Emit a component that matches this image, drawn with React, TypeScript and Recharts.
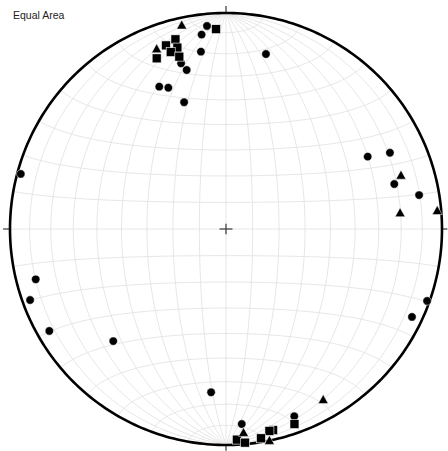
import React from 'react';
import { ScatterChart, Scatter, XAxis, YAxis } from 'recharts';

const title = 'Equal Area';

// Projected positions of the poles on the unit primitive circle: [east, north]
const circlePoles: [number, number][] = [
  [-0.088, 0.94], [-0.113, 0.9], [-0.116, 0.821], [0.185, 0.81], [-0.208, 0.767],
  [-0.182, 0.736], [-0.309, 0.659], [-0.267, 0.654], [-0.194, 0.587],
  [0.656, 0.335], [0.759, 0.353], [0.779, 0.208], [0.894, 0.157],
  [-0.95, 0.255], [-0.881, -0.233], [-0.907, -0.329], [-0.818, -0.472], [-0.522, -0.519],
  [0.931, -0.333], [0.861, -0.407],
  [-0.069, -0.756], [0.316, -0.867], [0.073, -0.903],
];

const squarePoles: [number, number][] = [
  [-0.046, 0.925], [-0.234, 0.878], [-0.278, 0.85], [-0.225, 0.84], [-0.256, 0.819],
  [-0.216, 0.798], [-0.321, 0.79],
  [0.317, -0.903], [0.218, -0.931], [0.201, -0.935], [0.162, -0.969], [0.05, -0.975], [0.088, -0.989],
];

const trianglePoles: [number, number][] = [
  [-0.205, 0.942], [-0.321, 0.832], [0.81, 0.247], [0.806, 0.073], [0.978, 0.083],
  [0.45, -0.792], [0.081, -0.944], [0.201, -0.981],
];

const gridStep = [10, 20, 30, 40, 50, 60, 70, 80];

const deg = Math.PI / 180;
const proj = (E: number, N: number, D: number) => {
  const k = 1 / Math.sqrt(1 + D);
  return { x: E * k, y: N * k };
};

const greatCircle = (dip: number, sign: number) => {
  const pts: { x: number; y: number }[] = [];
  for (let l = 0; l <= 180; l += 2) {
    const L = l * deg;
    pts.push(proj(sign * Math.sin(L) * Math.cos(dip * deg), Math.cos(L), Math.sin(L) * Math.sin(dip * deg)));
  }
  return pts;
};

const smallCircle = (theta: number, sign: number) => {
  const pts: { x: number; y: number }[] = [];
  for (let p = 0; p <= 180; p += 2) {
    const P = p * deg;
    pts.push(proj(Math.sin(theta * deg) * Math.cos(P), sign * Math.cos(theta * deg), Math.sin(theta * deg) * Math.sin(P)));
  }
  return pts;
};

const gridLines: { x: number; y: number }[][] = [];
gridStep.forEach((d) => {
  gridLines.push(greatCircle(d, 1));
  gridLines.push(greatCircle(d, -1));
  gridLines.push(smallCircle(d, 1));
  gridLines.push(smallCircle(d, -1));
});
gridLines.push(greatCircle(90, 1));
gridLines.push(smallCircle(90, 1));

const primitive: { x: number; y: number }[] = [];
for (let a = 0; a <= 360; a += 1) primitive.push({ x: Math.sin(a * deg), y: Math.cos(a * deg) });

const tickLen = 0.032;
const ticks = [
  [{ x: 0, y: 1 }, { x: 0, y: 1 + tickLen }],
  [{ x: 0, y: -1 }, { x: 0, y: -1 - 0.027 }],
  [{ x: 1, y: 0 }, { x: 1 + 0.025, y: 0 }],
  [{ x: -1, y: 0 }, { x: -1 - tickLen, y: 0 }],
];
const cross = [
  [{ x: -0.03, y: 0 }, { x: 0.03, y: 0 }],
  [{ x: 0, y: -0.024 }, { x: 0, y: 0.024 }],
];

const toPts = (arr: [number, number][]) => arr.map(([x, y]) => ({ x, y }));

const Empty = () => <g />;

const CircleMark = (p: any) => <circle cx={p.cx} cy={p.cy} r={4.2} fill="#000" stroke="#fff" strokeWidth={0.5} />;
const SquareMark = (p: any) => (
  <rect x={p.cx - 4.5} y={p.cy - 4.5} width={9} height={9} fill="#000" stroke="#fff" strokeWidth={0.6} />
);
const TriangleMark = (p: any) => (
  <polygon
    points={`${p.cx},${p.cy - 5.5} ${p.cx + 5},${p.cy + 3.5} ${p.cx - 5},${p.cy + 3.5}`}
    fill="#000"
    stroke="#fff"
    strokeWidth={0.5}
  />
);

export default function App() {
  return (
    <div style={{ position: 'absolute', left: 0, top: 0, width: 448, height: 451, background: '#fff' }}>
      <ScatterChart width={448} height={451} margin={{ top: 0, right: 0, bottom: 0, left: 0 }}>
        <XAxis type="number" dataKey="x" hide domain={[-1 - 10 / 216, 1 + 6 / 216]} allowDataOverflow />
        <YAxis type="number" dataKey="y" hide domain={[-1 - 6 / 216, 1 + 13 / 216]} allowDataOverflow />
        {gridLines.map((pts, i) => (
          <Scatter
            key={'g' + i}
            data={pts}
            line={{ stroke: '#e3e3e3', strokeWidth: 0.9, fill: 'none' }}
            lineType="joint"
            shape={Empty}
            fill="none"
            isAnimationActive={false}
          />
        ))}
        {ticks.map((pts, i) => (
          <Scatter
            key={'t' + i}
            data={pts}
            line={{ stroke: '#444', strokeWidth: 1.3, fill: 'none' }}
            lineType="joint"
            shape={Empty}
            fill="none"
            isAnimationActive={false}
          />
        ))}
        <Scatter
          data={primitive}
          line={{ stroke: '#000', strokeWidth: 2.6, fill: 'none' }}
          lineType="joint"
          shape={Empty}
          fill="none"
          isAnimationActive={false}
        />
        {cross.map((pts, i) => (
          <Scatter
            key={'c' + i}
            data={pts}
            line={{ stroke: '#444', strokeWidth: 1.3, fill: 'none' }}
            lineType="joint"
            shape={Empty}
            fill="none"
            isAnimationActive={false}
          />
        ))}
        <Scatter data={toPts(circlePoles)} shape={CircleMark} fill="#000" isAnimationActive={false} />
        <Scatter data={toPts(squarePoles)} shape={SquareMark} fill="#000" isAnimationActive={false} />
        <Scatter data={toPts(trianglePoles)} shape={TriangleMark} fill="#000" isAnimationActive={false} />
      </ScatterChart>
      <div
        style={{
          position: 'absolute',
          left: 13,
          top: 9,
          fontFamily: '"Liberation Sans", Arial, sans-serif',
          fontSize: 10.5,
          color: '#222',
          lineHeight: '12px',
        }}
      >
        {title}
      </div>
    </div>
  );
}
